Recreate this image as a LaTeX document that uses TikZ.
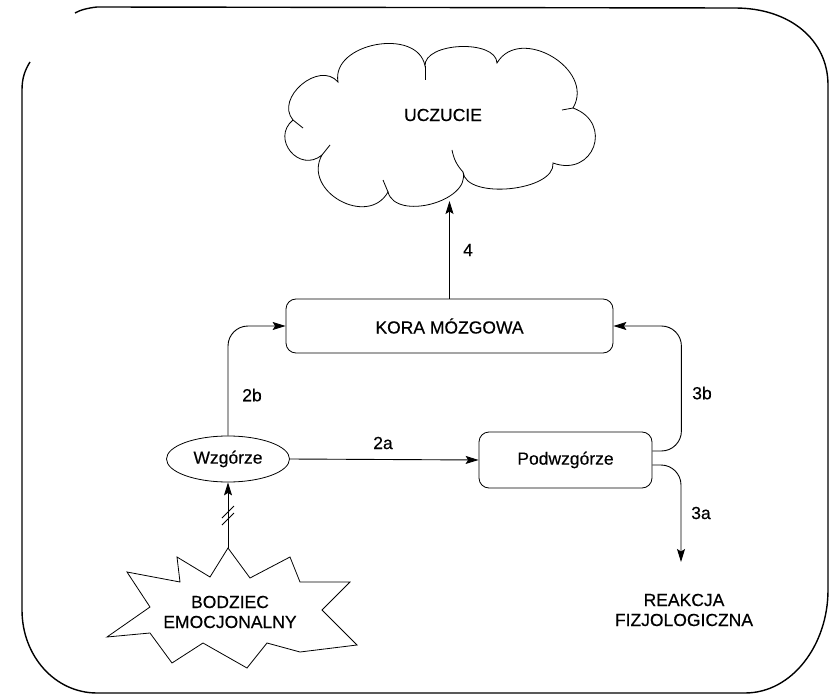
\documentclass[tikz,border=0pt]{standalone}
\usepackage{fontspec}
\setmainfont{Liberation Sans}[FakeBold=0.35]
\usetikzlibrary{arrows.meta,shapes.geometric}
\begin{document}
\begin{tikzpicture}[x=1pt,y=1pt,
  every node/.style={font=\fontsize{17.5}{20}\selectfont},
  box/.style={draw, rounded corners=10pt, line width=0.8pt, inner sep=0pt},
  oval/.style={draw, ellipse, line width=0.8pt, inner sep=0pt},
  conn/.style={line width=0.9pt, -{Stealth[length=13pt,width=8pt,inset=2.5pt]}},
  plain/.style={line width=0.8pt},
  border/.style={line width=1.4pt},
  lbl/.style={inner sep=0pt}]
\useasboundingbox (0,0) rectangle (830,-695);

% frame
\draw[border] (30,-62) .. controls (25,-70) and (22,-78) .. (22,-90) -- (22,-610)
  .. controls (22,-656) and (55,-693) .. (97,-693) -- (745,-693)
  .. controls (792,-693) and (828,-645) .. (828,-590) -- (828,-85)
  .. controls (828,-40) and (790,-8) .. (735,-8) -- (97,-7)
  .. controls (88,-8) and (80,-10) .. (75,-13);

% cloud
\draw[plain] (293,-120)
  to[bend left=90,looseness=1.25] (338,-82)
  to[bend left=90,looseness=1.15] (425,-66)
  to[bend left=90,looseness=0.85] (497,-63)
  to[bend left=90,looseness=1.3] (573,-108)
  to[bend left=90,looseness=1.9] (553,-163)
  to[bend left=90,looseness=0.8] (463,-172)
  to[bend left=90,looseness=1.0] (388,-192)
  to[bend left=90,looseness=1.4] (322,-155)
  to[bend left=90,looseness=1.65] (293,-120);
\draw[plain] (293,-120) -- (303,-128);
\draw[plain] (425,-66) -- (425,-80);
\draw[plain] (573,-108) -- (562,-110);
\draw[plain] (463,-172) to[bend left=15] (452,-150);
\draw[plain] (388,-192) -- (383,-180);
\draw[plain] (322,-155) -- (330,-145);
\node (uczucie) at (443,-115) {UCZUCIE};
\coordinate (cloudbot) at (449.5,-201);

% boxes
\node[box, minimum width=327pt, minimum height=54pt] (kora) at (449.5,-326) {KORA MÓZGOWA};
\node[box, minimum width=173pt, minimum height=56pt] (pod) at (565.5,-460) {Podwzgórze};
\node[oval, minimum width=123pt, minimum height=46pt] (wz) at (228,-459) {Wzgórze};

% star
\draw[plain] (228,-548) -- (250,-578) -- (290,-557) -- (300,-582) -- (350,-582)
  -- (322,-610) -- (357,-645) -- (300,-652) -- (267,-643) -- (247,-668)
  -- (203,-643) -- (172,-663) -- (150,-633) -- (107,-637) -- (150,-607)
  -- (127,-572) -- (180,-582) -- (177,-557) -- (210,-577) -- cycle;
\coordinate (startop) at (228,-548);
\node[align=center] (bodziec) at (230,-612) {BODZIEC\\EMOCJONALNY};

\node[align=center] (reakcja) at (684,-610) {REAKCJA\\FIZJOLOGICZNA};
\coordinate (reaktip) at (681,-562);

% connectors
\draw[conn] (kora.north) -- (cloudbot);
\draw[conn, rounded corners=20pt] (wz.north) |- (kora.west);
\draw[conn] (wz.east) -- (pod.west);
\draw[conn, rounded corners=20pt] ([yshift=9pt]pod.east) -- ++(29,0) |- (kora.east);
\draw[conn, rounded corners=20pt] ([yshift=-5pt]pod.east) -| (reaktip);
\draw[conn] (startop) -- (wz.south);
\draw[plain] (222,-518) -- (234,-506);
\draw[plain] (222,-525) -- (234,-513);

% labels
\node[lbl] (l4) at (468,-250) {4};
\node[lbl] (l2b) at (252,-395) {2b};
\node[lbl] (l2a) at (383,-443) {2a};
\node[lbl] (l3b) at (702,-393) {3b};
\node[lbl] (l3a) at (701,-513) {3a};
\end{tikzpicture}
\end{document}
